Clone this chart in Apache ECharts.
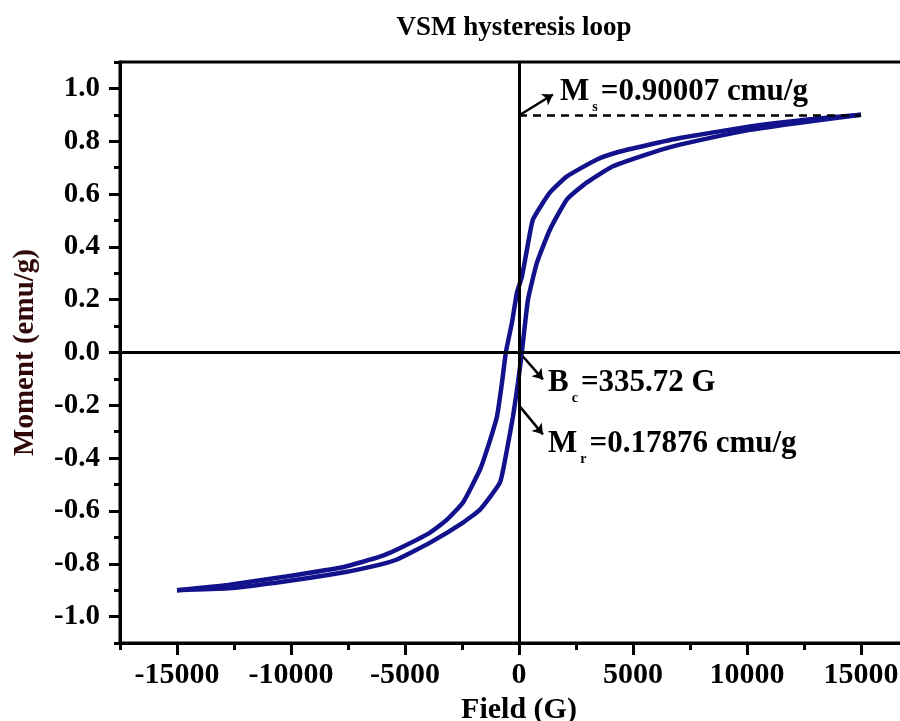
<!DOCTYPE html>
<html>
<head>
<meta charset="utf-8">
<script src="https://cdn.jsdelivr.net/npm/echarts@6/dist/echarts.min.js"></script>
<style>
html,body{margin:0;padding:0;background:#fff;}
#chart{width:900px;height:721px;}
</style>
</head>
<body>
<div id="chart"></div>
<script>
// ---- data ----
const fieldDesc = [15000, 12320, 10130, 7060, 5610, 4430, 3420, 2105, 1360, 614, 350, 130, -90, -307, -570, -746, -965, -1400, -1710, -2456, -3158, -3900, -5350, -6100, -7670, -10220, -12760, -15000];
const momentDesc = [0.90007, 0.879, 0.856, 0.812, 0.785, 0.761, 0.731, 0.667, 0.606, 0.504, 0.390, 0.288, 0.227, 0.114, 0.004, -0.114, -0.242, -0.367, -0.443, -0.568, -0.633, -0.682, -0.746, -0.773, -0.812, -0.848, -0.880, -0.90007];
const fieldAsc = [-15000, -12760, -10220, -7670, -6100, -5350, -3900, -2456, -1710, -833, -526, -263, -44, 130, 395, 790, 1360, 2105, 2980, 4120, 5880, 7060, 10130, 12320, 15000];
const momentAsc = [-0.90007, -0.893, -0.866, -0.832, -0.803, -0.784, -0.720, -0.644, -0.595, -0.492, -0.367, -0.242, -0.114, 0.004, 0.20, 0.341, 0.466, 0.58, 0.644, 0.705, 0.758, 0.787, 0.843, 0.870, 0.90007];

const xTickValues = [-15000, -10000, -5000, 0, 5000, 10000, 15000];
const xMinorValues = [-17500, -12500, -7500, -2500, 2500, 7500, 12500, 17500];
const yTickValues = [-1.0, -0.8, -0.6, -0.4, -0.2, 0.0, 0.2, 0.4, 0.6, 0.8, 1.0];
const yMinorValues = [-1.1, -0.9, -0.7, -0.5, -0.3, -0.1, 0.1, 0.3, 0.5, 0.7, 0.9, 1.1];

const msValue = 0.90007;
const msFieldEnd = 15000;
// annotation anchors (data coordinates)
const msArrow = [[50, 0.90007], [1490, 0.977]];
const bcArrow = [[175, -0.015], [1050, -0.102]];
const mrArrow = [[40, -0.205], [1050, -0.31]];
const msText = {coord: [1800, 0.985], text: '{m|M}{s|s}{m|=0.90007 cmu/g}'};
const bcText = {coord: [1270, -0.1155], text: '{m|B}{s|c}{m|=335.72 G}'};
const mrText = {coord: [1270, -0.348], text: '{m|M}{s|r}{m|=0.17876 cmu/g}'};

// ---- chart ----
const serif = 'Liberation Serif';
const zip = (a, b) => a.map((v, i) => [v, b[i]]);
const lineColor = '#12128c';

const rich = {
  m: {fontFamily: serif, fontWeight: 'bold', fontSize: 31, color: '#000', lineHeight: 44},
  s: {fontFamily: serif, fontWeight: 'bold', fontSize: 14, color: '#000', lineHeight: 4, verticalAlign: 'bottom', padding: [0, 3, 0, 3]}
};
function textPoint(t) {
  return {
    coord: t.coord, symbol: 'circle', symbolSize: 0.1,
    itemStyle: {color: 'rgba(0,0,0,0)'},
    label: {show: true, position: 'right', distance: 0, formatter: t.text, rich: rich}
  };
}
function arrow(a) {
  return [{coord: a[0], symbol: 'none'}, {coord: a[1], symbol: 'arrow', symbolSize: 10}];
}

const chart = echarts.init(document.getElementById('chart'), null, {renderer: 'canvas'});
chart.setOption({
  animation: false,
  backgroundColor: '#fff',
  title: {
    text: 'VSM hysteresis loop', left: 509, textAlign: 'center', top: 10,
    textStyle: {fontFamily: serif, fontWeight: 'bold', fontSize: 27, color: '#000'}
  },
  grid: {left: 120, top: 62, width: 798, height: 581, containLabel: false, outerBoundsMode: 'none',
    show: true, borderColor: '#000', borderWidth: 3, backgroundColor: 'transparent'},
  xAxis: [{
    type: 'value', min: -17500, max: 17500, position: 'bottom',
    axisLine: {show: true, onZero: false, lineStyle: {color: '#000', width: 3}},
    axisTick: {show: true, customValues: xTickValues, length: 12, lineStyle: {color: '#000', width: 3}},
    axisLabel: {customValues: xTickValues, fontFamily: serif, fontWeight: 'bold', fontSize: 30, color: '#000', margin: 17,
      formatter: v => String(v)},
    splitLine: {show: false},
    name: 'Field (G)', nameLocation: 'middle', nameGap: 48,
    nameTextStyle: {fontFamily: serif, fontWeight: 'bold', fontSize: 30, color: '#000'}
  }, {
    type: 'value', min: -17500, max: 17500, position: 'bottom',
    axisLine: {show: false, onZero: false},
    axisTick: {show: true, customValues: xMinorValues, length: 7, lineStyle: {color: '#000', width: 3}},
    axisLabel: {show: false},
    splitLine: {show: false}
  }],
  yAxis: [{
    type: 'value', min: -1.1, max: 1.1, position: 'left',
    axisLine: {show: true, onZero: false, lineStyle: {color: '#000', width: 3}},
    axisTick: {show: true, customValues: yTickValues, length: 11, lineStyle: {color: '#000', width: 3}},
    axisLabel: {customValues: yTickValues, fontFamily: serif, fontWeight: 'bold', fontSize: 29, color: '#000', margin: 20,
      formatter: v => v.toFixed(1)},
    splitLine: {show: false},
    name: 'Moment (emu/g)', nameLocation: 'middle', nameGap: 80,
    nameTextStyle: {fontFamily: serif, fontWeight: 'bold', fontSize: 29, color: '#300808'}
  }, {
    type: 'value', min: -1.1, max: 1.1, position: 'left',
    axisLine: {show: false, onZero: false},
    axisTick: {show: true, customValues: yMinorValues, length: 6, lineStyle: {color: '#000', width: 3}},
    axisLabel: {show: false},
    splitLine: {show: false}
  }],
  series: [{
    name: 'Descending', type: 'line', xAxisIndex: 0, yAxisIndex: 0,
    data: zip(fieldDesc, momentDesc), showSymbol: false, smooth: 0.15,
    lineStyle: {color: lineColor, width: 4.5}, z: 3,
    markLine: {
      silent: true, symbol: 'none', label: {show: false},
      lineStyle: {color: '#000', width: 3, type: 'solid'},
      data: [{xAxis: 0}, {yAxis: 0}]
    }
  }, {
    name: 'Ascending', type: 'line', xAxisIndex: 0, yAxisIndex: 0,
    data: zip(fieldAsc, momentAsc), showSymbol: false, smooth: 0.15,
    lineStyle: {color: lineColor, width: 4.5}, z: 3,
    markLine: {
      silent: true, label: {show: false},
      lineStyle: {color: '#000', width: 2.5, type: 'solid'},
      data: [
        [{coord: [0, msValue], symbol: 'none', lineStyle: {type: [8, 6], width: 2.5, color: '#000'}},
         {coord: [msFieldEnd, msValue], symbol: 'none'}],
        arrow(msArrow), arrow(bcArrow), arrow(mrArrow)
      ]
    },
    markPoint: {
      silent: true,
      data: [textPoint(msText), textPoint(bcText), textPoint(mrText)]
    }
  }]
});
</script>
</body>
</html>
